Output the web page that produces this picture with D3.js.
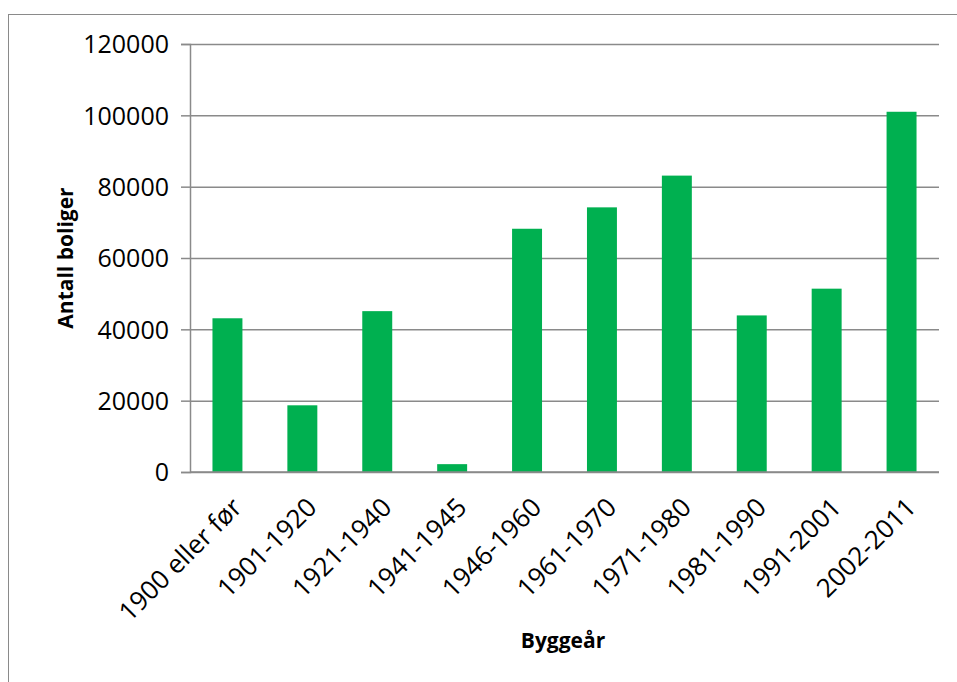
<!DOCTYPE html>
<html>
<head>
<meta charset="utf-8">
<script src="https://cdn.jsdelivr.net/npm/d3@7"></script>
<style>
  html, body { margin: 0; padding: 0; background: #ffffff; }
  #vis_container { width: 957px; height: 682px; }
  text { font-family: "Open Sans", "Liberation Sans", sans-serif; fill: #000; }
</style>
</head>
<body>
<div id="vis_container"></div>
<script>
// data
var categories = ["1900 eller før","1901-1920","1921-1940","1941-1945","1946-1960",
                  "1961-1970","1971-1980","1981-1990","1991-2001","2002-2011"];
var values = [43100, 18700, 45100, 2200, 68200, 74200, 83100, 43900, 51400, 101000];
var yTicks = [0, 20000, 40000, 60000, 80000, 100000, 120000];

var chart = {};
chart.width = 957;
chart.height = 682;
chart.margin = {"top":44,"left":190,"right":18,"bottom":210};

chart.svg = d3.select("#vis_container").append("svg")
	.attr("width", chart.width)
	.attr("height", chart.height);

// outer chart border (only top and left visible)
chart.svg.append("rect")
	.attr("x", 8.5)
	.attr("y", 14.5)
	.attr("width", 1000)
	.attr("height", 1000)
	.attr("fill", "none")
	.attr("stroke", "#8a8a8a")
	.attr("stroke-width", 1);

chart.x = d3.scaleBand()
	.domain(categories)
	.range([chart.margin.left, chart.width - chart.margin.right])
	.paddingInner(0.6)
	.paddingOuter(0.3);

chart.y = d3.scaleLinear()
	.domain([0, 120000])
	.range([chart.height - chart.margin.bottom, chart.margin.top]);

// gridlines + left ticks
chart.svg.append("g")
	.attr("transform", "translate(" + chart.margin.left + ",0)")
	.call(d3.axisLeft(chart.y)
		.tickValues(yTicks)
		.tickSize(9)
		.tickPadding(12)
		.tickFormat(d3.format("d")))
	.call(function(g) {
		g.select(".domain").attr("stroke", "#8a8a8a").attr("stroke-width", 1.5);
		g.selectAll(".tick line").attr("stroke", "#8a8a8a").attr("stroke-width", 1.5);
		g.selectAll(".tick text")
			.style("font-size", "25px")
			.attr("dy", "0.35em")
			.attr("fill", "#000");
		g.selectAll(".tick").append("line")
			.attr("x1", 0)
			.attr("x2", chart.width - chart.margin.right - chart.margin.left)
			.attr("stroke", "#8a8a8a")
			.attr("stroke-width", 1.5);
	});

// bars
chart.svg.selectAll(".bar")
	.data(values)
	.enter().append("rect")
	.attr("class", "bar")
	.attr("x", function(d, i) { return chart.x(categories[i]); })
	.attr("y", function(d) { return chart.y(d); })
	.attr("width", chart.x.bandwidth())
	.attr("height", function(d) { return chart.y(0) - chart.y(d); })
	.attr("fill", "#00B050");

// x axis line on top of bars
chart.svg.append("line")
	.attr("x1", chart.margin.left)
	.attr("x2", chart.width - chart.margin.right)
	.attr("y1", chart.y(0))
	.attr("y2", chart.y(0))
	.attr("stroke", "#8a8a8a")
	.attr("stroke-width", 1.5);

// rotated category labels
chart.svg.selectAll(".xlabel")
	.data(categories)
	.enter().append("text")
	.attr("class", "xlabel")
	.attr("text-anchor", "end")
	.style("font-size", "26px")
	.attr("transform", function(d) {
		var cx = chart.x(d) + chart.x.bandwidth() / 2;
		return "translate(" + (cx + 16) + "," + (chart.y(0) + 37) + ") rotate(-45)";
	})
	.text(function(d) { return d; });

// axis titles
chart.svg.append("text")
	.attr("text-anchor", "middle")
	.attr("transform", "translate(73,258) rotate(-90)")
	.style("font-size", "21px")
	.style("font-weight", "bold")
	.text("Antall boliger");

chart.svg.append("text")
	.attr("x", 563)
	.attr("y", 648)
	.attr("text-anchor", "middle")
	.style("font-size", "21px")
	.style("font-weight", "bold")
	.text("Byggeår");
</script>
</body>
</html>
